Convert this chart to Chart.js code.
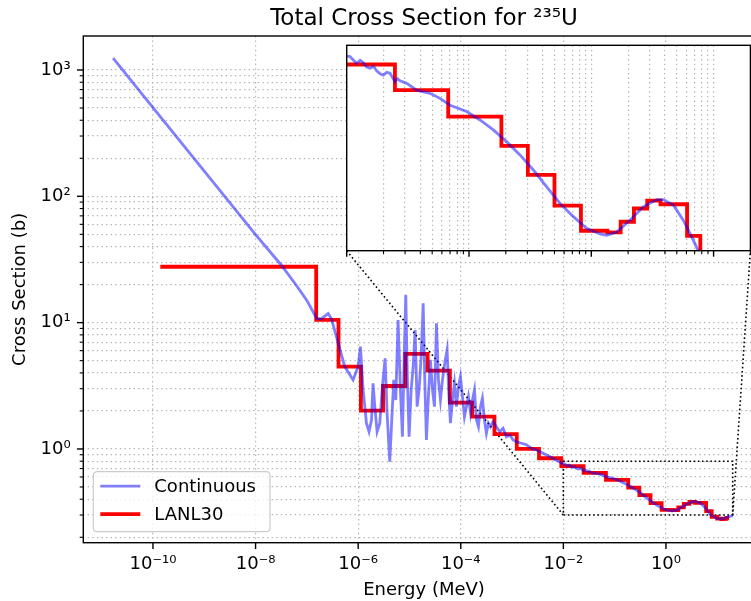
<!DOCTYPE html>
<html>
<head>
<meta charset="utf-8">
<script src="https://cdn.jsdelivr.net/npm/chart.js@4.4.0/dist/chart.umd.min.js"></script>
<style>
  html, body { margin: 0; padding: 0; background: #fff; }
  #wrap { position: relative; width: 751px; height: 601px; overflow: hidden; background: #fff; }
  #main { position: absolute; left: 0; top: 0; }
  #inset { position: absolute; left: 340px; top: 40px; }
</style>
</head>
<body>
<div id="wrap">
  <canvas id="main" width="780" height="601"></canvas>
  <canvas id="inset" width="430" height="225"></canvas>
</div>
<script>
// continuous cross section (MeV, barns)
const contEnergy = [
  1.67e-11, 1.0e-10, 1.0e-9, 1.0e-8, 3.16e-8, 6.31e-8, 1.0e-7, 1.32e-7, 1.55e-7, 1.9e-7,
  2.6e-7, 3.02e-7, 3.77e-7, 5.48e-7, 7.96e-7, 9.97e-7, 1.107e-6, 1.25e-6, 1.45e-6, 1.63e-6,
  1.82e-6, 1.95e-6, 2.11e-6, 2.34e-6, 2.64e-6, 2.97e-6, 3.35e-6, 3.66e-6, 4.13e-6, 4.52e-6,
  4.94e-6, 5.41e-6, 6.0e-6, 6.67e-6, 7.29e-6, 7.98e-6, 8.47e-6, 9.12e-6, 9.84e-6, 1.08e-5,
  1.18e-5, 1.29e-5, 1.41e-5, 1.54e-5, 1.69e-5, 1.85e-5, 1.99e-5, 2.14e-5, 2.34e-5, 2.56e-5,
  2.81e-5, 3.07e-5, 3.36e-5, 3.67e-5, 4.02e-5, 4.40e-5, 4.88e-5, 5.42e-5, 5.84e-5, 6.29e-5,
  6.89e-5, 7.53e-5, 8.24e-5, 9.01e-5, 9.86e-5, 1.08e-4, 1.18e-4, 1.29e-4, 1.41e-4, 1.55e-4,
  1.69e-4, 1.85e-4, 2.02e-4, 2.21e-4, 2.42e-4, 2.64e-4, 2.89e-4, 3.16e-4, 3.46e-4, 3.78e-4,
  4.27e-4, 4.96e-4, 5.75e-4, 6.68e-4, 7.76e-4, 9.01e-4, 1.05e-3, 1.22e-3, 1.52e-3, 1.91e-3,
  2.39e-3, 2.99e-3, 4.03e-3, 5.43e-3, 7.33e-3,
  0.0100, 0.01064, 0.01132, 0.01208, 0.01288, 0.01368, 0.01459, 0.01552, 0.01652, 0.01758,
  0.01875, 0.01995, 0.02123, 0.0226, 0.02483, 0.026, 0.02729, 0.03097, 0.03733, 0.04797,
  0.05794, 0.06998, 0.09572, 0.123, 0.158, 0.203, 0.261, 0.336, 0.432, 0.555,
  0.713, 0.916, 1.178, 1.337, 1.614, 2.07, 2.66, 3.43, 3.88, 4.69,
  5.65, 6.41, 7.50, 9.86, 12.3, 15.5, 20.0
];
const contXS = [
  1240, 504, 158, 49.7, 28.6, 19.6, 15.0, 12.2, 10.8, 10.7,
  11.8, 10.7, 7.75, 4.49, 3.52, 4.49, 6.46, 2.93, 1.60, 1.37,
  1.70, 3.31, 2.16, 1.37, 1.60, 3.12, 5.22, 1.92, 0.794, 1.70,
  3.52, 2.44, 10.5, 2.93, 1.25, 6.46, 16.6, 3.52, 1.25, 2.93,
  4.49, 8.75, 2.16, 2.93, 5.38, 14.2, 3.52, 1.18, 2.60, 5.07,
  2.93, 2.16, 9.89, 3.52, 2.44, 3.52, 4.77, 6.08, 2.76, 1.60,
  2.44, 3.31, 2.16, 3.12, 3.74, 2.60, 1.80, 2.16, 2.60, 1.92,
  2.44, 2.93, 1.70, 1.50, 2.16, 2.52, 1.70, 1.33, 1.60, 1.50,
  1.65, 1.50, 1.37, 1.46, 1.25, 1.29, 1.18, 1.14, 1.11, 1.08,
  1.01, 0.982, 0.924, 0.87, 0.815,
  0.760, 0.758, 0.746, 0.734, 0.745, 0.736, 0.721, 0.717, 0.724, 0.708,
  0.698, 0.694, 0.703, 0.700, 0.672, 0.682, 0.675, 0.667, 0.646, 0.636,
  0.621, 0.601, 0.583, 0.560, 0.534, 0.505, 0.474, 0.441, 0.407, 0.376,
  0.353, 0.334, 0.325, 0.323, 0.328, 0.347, 0.370, 0.383, 0.383, 0.373,
  0.347, 0.326, 0.300, 0.282, 0.279, 0.288, 0.297
];

// LANL 30 group boundaries (MeV) and group averaged values
const groupBounds = [
  1.39e-10, 1.52e-7, 4.14e-7, 1.13e-6, 3.06e-6, 8.32e-6, 2.26e-5, 6.14e-5, 1.67e-4, 4.54e-4,
  1.235e-3, 3.35e-3, 9.12e-3, 2.48e-2, 6.76e-2, 0.184, 0.303, 0.5, 0.823, 1.353,
  1.738, 2.232, 2.865, 3.68, 6.07, 7.79, 10.0, 12.0, 13.5, 15.0, 17.0
];
const groupXS = [
  27.7, 10.5, 4.49, 2.01, 3.15, 5.65, 4.17, 2.33, 1.80, 1.31,
  1.00, 0.844, 0.73, 0.646, 0.569, 0.495, 0.431, 0.372, 0.330, 0.3275,
  0.3445, 0.367, 0.381, 0.3745, 0.322, 0.29, 0.281, 0.279, 0.28, 0.284
];

const xTickValues = [1e-10, 1e-8, 1e-6, 1e-4, 1e-2, 1];
const xTickLabels = ['10⁻¹⁰', '10⁻⁸', '10⁻⁶', '10⁻⁴', '10⁻²', '10⁰'];
const yTickValues = [1, 10, 100, 1000];
const yTickLabels = ['10⁰', '10¹', '10²', '10³'];
const zoomX = [0.01, 20];
const zoomY = [0.3, 0.8];

const yMinor = [];
[0.1, 1, 10, 100].forEach(d => { for (let m = 2; m <= 9; m++) yMinor.push(m * d); });
const yAllTicks = yMinor.concat(yTickValues).sort((a, b) => a - b);

const insetMajor = [0.01, 0.1, 1, 10];
const insetTicks = [];
[0.01, 0.1, 1].forEach(d => { for (let m = 1; m <= 9; m++) insetTicks.push(m * d); });
insetTicks.push(10, 20);

const FONT = "'DejaVu Sans', 'Liberation Sans', sans-serif";
Chart.defaults.font.family = FONT;
Chart.defaults.font.size = 18;
Chart.defaults.color = '#000';

const GRID = '#b4b4b4';
const GRID_DASH = [1.4, 3.2];
const BLUE = 'rgba(0, 0, 255, 0.5)';
const RED = '#ff0000';

function contPoints() {
  return contEnergy.map((e, i) => ({ x: e, y: contXS[i] }));
}
function stepPoints() {
  return groupBounds.map((e, i) => ({ x: e, y: groupXS[Math.min(i, groupXS.length - 1)] }));
}
function makeDatasets() {
  return [
    { label: 'Continuous', data: contPoints(), borderColor: BLUE, borderWidth: 2.8,
      pointRadius: 0, tension: 0, fill: false },
    { label: 'LANL30', data: stepPoints(), borderColor: RED, borderWidth: 3.8,
      pointRadius: 0, stepped: 'before', fill: false }
  ];
}

// ---------- inset ----------
const insetCanvas = document.getElementById('inset');

const insetDecor = {
  id: 'insetDecor',
  beforeDraw(chart) {
    const a = chart.chartArea, c = chart.ctx;
    c.save();
    c.fillStyle = '#fff';
    c.fillRect(a.left, a.top, a.right - a.left, a.bottom - a.top);
    c.restore();
  },
  afterDraw(chart) {
    const a = chart.chartArea, c = chart.ctx, xs = chart.scales.x;
    c.save();
    c.strokeStyle = '#000';
    insetTicks.forEach(v => {
      const px = xs.getPixelForValue(v);
      const major = insetMajor.includes(v);
      c.lineWidth = major ? 1.4 : 1.1;
      c.beginPath();
      c.moveTo(px, a.bottom);
      c.lineTo(px, a.bottom + (major ? 6 : 3.5));
      c.stroke();
    });
    c.lineWidth = 1.4;
    c.strokeRect(a.left, a.top, a.right - a.left, a.bottom - a.top);
    c.restore();
  }
};

const insetChart = new Chart(insetCanvas, {
  type: 'line',
  data: { datasets: makeDatasets() },
  options: {
    responsive: false,
    animation: false,
    events: [],
    layout: { padding: { left: 6.7, top: 5.3, right: 19.6, bottom: 14.3 } },
    plugins: { legend: { display: false }, tooltip: { enabled: false } },
    scales: {
      x: {
        type: 'logarithmic', min: zoomX[0], max: zoomX[1],
        afterBuildTicks: s => { s.ticks = insetTicks.map(v => ({ value: v })); },
        afterFit: s => { s.height = 0; },
        ticks: { display: false },
        grid: { color: GRID, lineWidth: 1.2, drawTicks: false },
        border: { display: false, dash: GRID_DASH }
      },
      y: {
        type: 'logarithmic', min: zoomY[0], max: zoomY[1],
        afterFit: s => { s.width = 0; },
        ticks: { display: false },
        grid: { display: false, drawTicks: false },
        border: { display: false }
      }
    }
  },
  plugins: [insetDecor]
});

// ---------- main chart ----------
const mainDecor = {
  id: 'mainDecor',
  beforeDatasetsDraw(chart) {
    const xs = chart.scales.x, ys = chart.scales.y, c = chart.ctx;
    const x1 = xs.getPixelForValue(zoomX[0]), x2 = xs.getPixelForValue(zoomX[1]);
    const y1 = ys.getPixelForValue(zoomY[0]), y2 = ys.getPixelForValue(zoomY[1]);
    const ia = insetChart.chartArea;
    const ox = insetCanvas.offsetLeft, oy = insetCanvas.offsetTop;
    c.save();
    c.strokeStyle = '#000';
    c.lineWidth = 1.6;
    c.setLineDash([1.6, 2.6]);
    c.strokeRect(x1, y2, x2 - x1, y1 - y2);
    c.beginPath();
    c.moveTo(x1, y1);
    c.lineTo(ia.left + ox, ia.bottom + oy);
    c.moveTo(x2, y1);
    c.lineTo(ia.right + ox, ia.bottom + oy);
    c.stroke();
    c.restore();
  },
  afterDraw(chart) {
    const a = chart.chartArea, c = chart.ctx;
    const xs = chart.scales.x, ys = chart.scales.y;
    c.save();

    // title
    c.fillStyle = '#000';
    c.font = '23px ' + FONT;
    c.textAlign = 'center';
    c.textBaseline = 'alphabetic';
    c.fillText('Total Cross Section for ²³⁵U', (a.left + a.right) / 2, 25);

    // tick marks
    c.strokeStyle = '#000';
    yAllTicks.forEach(v => {
      const py = ys.getPixelForValue(v);
      const major = yTickValues.includes(v);
      c.lineWidth = major ? 1.4 : 1.1;
      c.beginPath();
      c.moveTo(a.left, py);
      c.lineTo(a.left - (major ? 6.3 : 3.6), py);
      c.stroke();
    });
    xTickValues.forEach(v => {
      const px = xs.getPixelForValue(v);
      c.lineWidth = 1.4;
      c.beginPath();
      c.moveTo(px, a.bottom);
      c.lineTo(px, a.bottom + 6.3);
      c.stroke();
    });

    // frame
    c.lineWidth = 1.4;
    c.strokeRect(a.left, a.top, a.right - a.left, a.bottom - a.top);

    // legend (lower left)
    const lx = a.left + 10, ly = a.bottom - 71, lw = 176.7, lh = 60, r = 4;
    c.beginPath();
    c.moveTo(lx + r, ly);
    c.lineTo(lx + lw - r, ly);
    c.quadraticCurveTo(lx + lw, ly, lx + lw, ly + r);
    c.lineTo(lx + lw, ly + lh - r);
    c.quadraticCurveTo(lx + lw, ly + lh, lx + lw - r, ly + lh);
    c.lineTo(lx + r, ly + lh);
    c.quadraticCurveTo(lx, ly + lh, lx, ly + lh - r);
    c.lineTo(lx, ly + r);
    c.quadraticCurveTo(lx, ly, lx + r, ly);
    c.closePath();
    c.fillStyle = 'rgba(255,255,255,0.8)';
    c.fill();
    c.strokeStyle = '#cccccc';
    c.lineWidth = 1.2;
    c.stroke();

    c.font = '18px ' + FONT;
    c.textAlign = 'left';
    c.textBaseline = 'middle';
    chart.data.datasets.forEach((ds, i) => {
      const yy = ly + 14.5 + i * 28;
      c.strokeStyle = ds.borderColor;
      c.lineWidth = ds.borderWidth;
      c.beginPath();
      c.moveTo(lx + 7, yy);
      c.lineTo(lx + 47, yy);
      c.stroke();
      c.fillStyle = '#000';
      c.fillText(ds.label, lx + 61, yy + 1);
    });

    c.restore();
  }
};

const mainChart = new Chart(document.getElementById('main'), {
  type: 'line',
  data: { datasets: makeDatasets() },
  options: {
    responsive: false,
    animation: false,
    events: [],
    layout: { padding: { left: 0, top: 36, right: 15.3, bottom: 0 } },
    plugins: { legend: { display: false }, tooltip: { enabled: false } },
    scales: {
      x: {
        type: 'logarithmic', min: 4.385e-12, max: 84.1,
        afterBuildTicks: s => { s.ticks = xTickValues.map(v => ({ value: v })); },
        afterFit: s => { s.height = 58.3; },
        ticks: {
          padding: 11, maxRotation: 0, autoSkip: false, color: '#000',
          font: { size: 18 },
          callback: (v, i) => xTickLabels[i]
        },
        grid: { color: GRID, lineWidth: 1.2, drawTicks: false },
        border: { display: false, dash: GRID_DASH },
        title: { display: true, text: 'Energy (MeV)', font: { size: 18 }, padding: { top: 0, bottom: 0.2 } }
      },
      y: {
        type: 'logarithmic', min: 0.1811, max: 1858,
        afterBuildTicks: s => { s.ticks = yAllTicks.map(v => ({ value: v })); },
        afterFit: s => { s.width = 83.3; },
        ticks: {
          padding: 12.6, autoSkip: false, color: '#000',
          font: { size: 18 },
          callback: v => {
            const k = yTickValues.indexOf(v);
            return k >= 0 ? yTickLabels[k] : '';
          }
        },
        grid: { color: GRID, lineWidth: 1.2, drawTicks: false },
        border: { display: false, dash: GRID_DASH },
        title: { display: true, text: 'Cross Section (b)', font: { size: 18 }, padding: { top: 9.2, bottom: 0 } }
      }
    }
  },
  plugins: [mainDecor]
});
</script>
</body>
</html>
